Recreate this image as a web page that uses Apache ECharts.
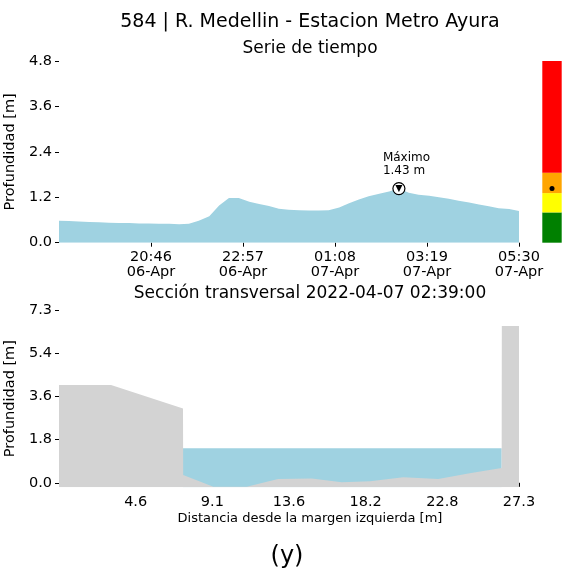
<!DOCTYPE html>
<html>
<head>
<meta charset="utf-8">
<script src="https://cdn.jsdelivr.net/npm/echarts@6/dist/echarts.min.js"></script>
<style>
html,body{margin:0;padding:0;background:#fff;}
#chart{width:562px;height:571px;}
</style>
</head>
<body>
<div id="chart"></div>
<script>
// ---- Data: time series (minutes after 06-Apr 18:35) ----
const times = [0,14,28,43,57,71,85,100,114,128,142,157,171,185,199,214,228,242,256,271,285,299,313,327,342,356,370,384,399,413,427,441,456,470,484,498,512,527,541,555,569,584,598,612,626,641,655];
const depths = [0.58,0.57,0.56,0.55,0.54,0.53,0.52,0.52,0.51,0.51,0.50,0.50,0.49,0.50,0.58,0.70,0.98,1.18,1.18,1.08,1.02,0.97,0.90,0.87,0.86,0.85,0.85,0.86,0.93,1.04,1.14,1.23,1.29,1.35,1.43,1.32,1.27,1.24,1.20,1.16,1.11,1.06,1.01,0.96,0.91,0.89,0.84];
const timeTickValues = [131,262,393,524,655];
const timeTickLabels = ['20:46\n06-Apr','22:57\n06-Apr','01:08\n07-Apr','03:19\n07-Apr','05:30\n07-Apr'];
const depthTicksTop = [0,1.2,2.4,3.6,4.8];

// ---- Alert level bands (m) ----
const bandNames = ['verde','amarillo','naranja','rojo'];
const bandTops = [0.80,1.31,1.85,4.8];
const bandColors = ['#008000','#ffff00','#ffa500','#ff0000'];

// ---- Cross section ----
const bedDist  = [0,3.09,7.36,7.37,9.16,11.14,13.0,15.0,16.78,18.46,20.43,22.51,24.37,26.27,26.28,27.3];
const bedDepth = [4.13,4.13,3.14,0.33,-0.17,-0.17,0.16,0.18,0.02,0.07,0.23,0.16,0.40,0.63,6.62,6.62];
const waterLevel = 1.46;
const waterStart = 7.36, waterEnd = 26.27;
const distTickValues = [4.55,9.1,13.65,18.2,22.75,27.3];
const distTickLabels = ['4.6','9.1','13.6','18.2','22.8','27.3'];
const secTickValues = [0,1.825,3.65,5.475,7.3];
const secTickLabels = ['0.0','1.8','3.6','5.4','7.3'];

const FONT = 'DejaVu Sans';
let maxI = 0;
depths.forEach((d,i)=>{ if(d>depths[maxI]) maxI=i; });
const maxT = times[maxI], maxV = depths[maxI];

function nearestLabel(v, vals, labels){
  let bi=0; vals.forEach((x,i)=>{ if(Math.abs(x-v)<Math.abs(vals[bi]-v)) bi=i; });
  return labels[bi];
}

const tickStyle = {show:true, length:4, lineStyle:{color:'#000', width:1}};
const labelStyle = {fontSize:14.5, color:'#000', fontFamily:FONT};

const bandData = bandTops.map((t,i)=> i===0 ? t : +(t-bandTops[i-1]).toFixed(3));

const chart = echarts.init(document.getElementById('chart'), null, {renderer:'canvas'});
chart.setOption({
  animation:false,
  backgroundColor:'#fff',
  textStyle:{fontFamily:FONT},
  grid:[
    {left:59, top:61, width:460, height:181.7, outerBoundsMode:'none', containLabel:false},
    {left:542.3, top:61, width:19.4, height:181.7, outerBoundsMode:'none', containLabel:false},
    {left:59, top:310, width:460, height:177.3, outerBoundsMode:'none', containLabel:false}
  ],
  xAxis:[
    {gridIndex:0, type:'value', min:0, max:655,
     axisLine:{show:false}, splitLine:{show:false},
     axisTick:Object.assign({customValues:timeTickValues}, tickStyle),
     axisLabel:Object.assign({customValues:timeTickValues, margin:7, lineHeight:15,
       formatter:v=>nearestLabel(v,timeTickValues,timeTickLabels)}, labelStyle)},
    {gridIndex:1, type:'category', data:['nivel'], show:false},
    {gridIndex:2, type:'value', min:0, max:27.3,
     axisLine:{show:false}, splitLine:{show:false},
     axisTick:Object.assign({customValues:distTickValues}, tickStyle),
     axisLabel:Object.assign({customValues:distTickValues, margin:7,
       formatter:v=>nearestLabel(v,distTickValues,distTickLabels)}, labelStyle),
     name:'Distancia desde la margen izquierda [m]', nameLocation:'middle', nameGap:25,
     nameTextStyle:{fontSize:13, color:'#000', fontFamily:FONT, padding:[0,0,0,42]}}
  ],
  yAxis:[
    {gridIndex:0, type:'value', min:0, max:4.8,
     axisLine:{show:false}, splitLine:{show:false},
     axisTick:Object.assign({customValues:depthTicksTop}, tickStyle),
     axisLabel:Object.assign({customValues:depthTicksTop, margin:7, formatter:v=>v.toFixed(1)}, labelStyle),
     name:'Profundidad [m]', nameLocation:'middle', nameGap:36,
     nameTextStyle:{fontSize:14.5, color:'#000', fontFamily:FONT}},
    {gridIndex:1, type:'value', min:0, max:4.8, show:false},
    {gridIndex:2, type:'value', min:-0.19, max:7.3,
     axisLine:{show:false}, splitLine:{show:false},
     axisTick:Object.assign({customValues:secTickValues}, tickStyle),
     axisLabel:Object.assign({customValues:secTickValues, margin:7,
       formatter:v=>nearestLabel(v,secTickValues,secTickLabels)}, labelStyle),
     name:'Profundidad [m]', nameLocation:'middle', nameGap:36,
     nameTextStyle:{fontSize:14.5, color:'#000', fontFamily:FONT}}
  ],
  series:[
    {type:'line', xAxisIndex:0, yAxisIndex:0, showSymbol:false, silent:true,
     data:times.map((t,i)=>[t,depths[i]]),
     lineStyle:{width:0}, itemStyle:{color:'#9fd2e1'},
     areaStyle:{color:'#9fd2e1', opacity:1, origin:'start'}},
    {type:'scatter', xAxisIndex:0, yAxisIndex:0, data:[[maxT,maxV]], symbol:'circle', symbolSize:12, z:5,
     itemStyle:{color:'#fff', borderColor:'#000', borderWidth:1.2, opacity:1},
     label:{show:true, position:'top', align:'left', offset:[-16,0], distance:5, opacity:1,
       formatter:'Máximo\n'+maxV.toFixed(2)+' m', fontSize:12, lineHeight:13, color:'#000', fontFamily:FONT}},
    {type:'scatter', xAxisIndex:0, yAxisIndex:0, data:[[maxT,maxV]], symbol:'triangle', symbolRotate:180,
     symbolSize:7, z:6, itemStyle:{color:'#000', opacity:1}},
    ...bandNames.map((n,i)=>({type:'bar', name:n, xAxisIndex:1, yAxisIndex:1, stack:'bandas',
      barWidth:'100%', data:[bandData[i]], itemStyle:{color:bandColors[i]}, silent:true})),
    {type:'scatter', xAxisIndex:1, yAxisIndex:1, data:[[0,maxV]], symbolSize:5, z:5, itemStyle:{color:'#000', opacity:1}},
    {type:'line', xAxisIndex:2, yAxisIndex:2, showSymbol:false, silent:true, z:2,
     data:[[waterStart,waterLevel],[waterEnd,waterLevel]],
     lineStyle:{width:0}, itemStyle:{color:'#9fd2e1'},
     areaStyle:{color:'#9fd2e1', opacity:1, origin:'start'}},
    {type:'line', xAxisIndex:2, yAxisIndex:2, showSymbol:false, silent:true, z:3,
     data:bedDist.map((d,i)=>[d,bedDepth[i]]),
     lineStyle:{width:0}, itemStyle:{color:'#d3d3d3'},
     areaStyle:{color:'#d3d3d3', opacity:1, origin:'start'}}
  ],
  graphic:[
    {type:'text', x:310, y:22, style:{text:'584 | R. Medellin - Estacion Metro Ayura', fontSize:19, fontFamily:FONT, fill:'#000', align:'center', verticalAlign:'middle'}},
    {type:'text', x:310, y:49, style:{text:'Serie de tiempo', fontSize:17, fontFamily:FONT, fill:'#000', align:'center', verticalAlign:'middle'}},
    {type:'text', x:310, y:294, style:{text:'Sección transversal 2022-04-07 02:39:00', fontSize:17, fontFamily:FONT, fill:'#000', align:'center', verticalAlign:'middle'}},
    {type:'text', x:287, y:557, style:{text:'(y)', fontSize:24, fontFamily:FONT, fill:'#000', align:'center', verticalAlign:'middle'}}
  ]
});
</script>
</body>
</html>
